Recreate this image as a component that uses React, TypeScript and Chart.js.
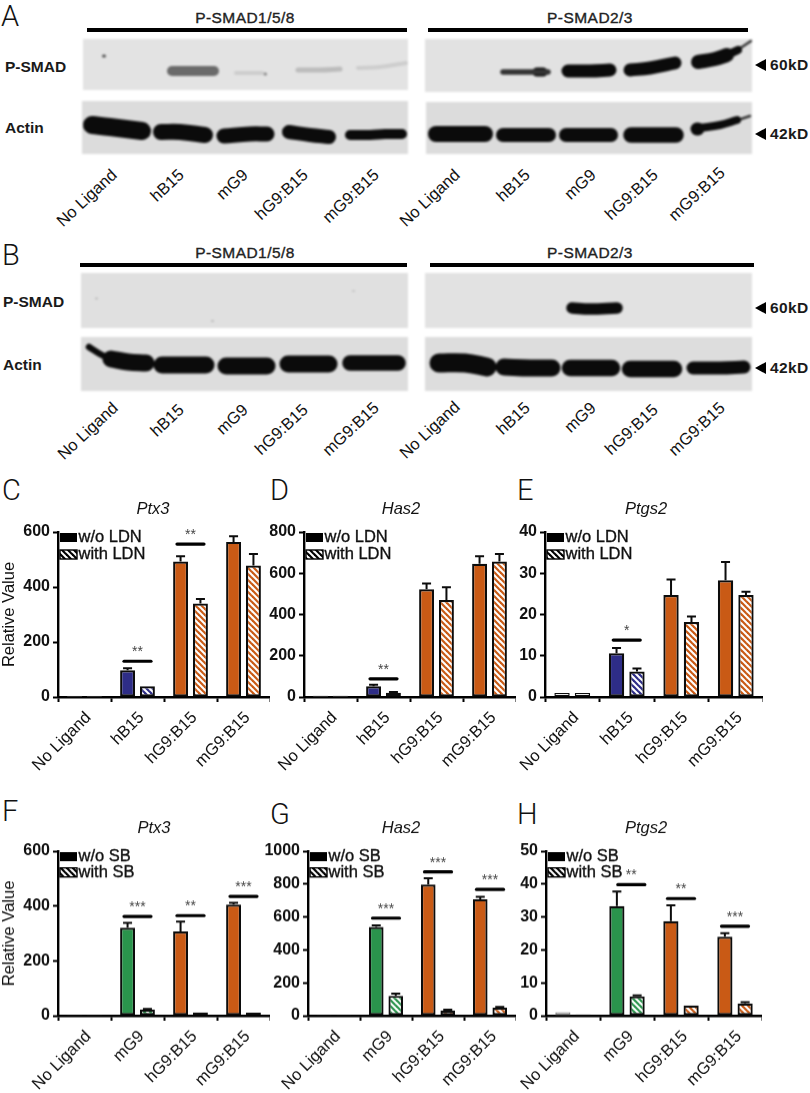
import React, { useEffect, useRef } from "react";
import { Chart, registerables } from "chart.js";

Chart.register(...registerables);
Chart.defaults.font.family = '"Liberation Sans", Arial, sans-serif';
Chart.defaults.color = "#111";

// ---------- bar chart data ----------
const catsLdn = ["No Ligand", "hB15", "hG9:B15", "mG9:B15"];
const catsSb = ["No Ligand", "mG9", "hG9:B15", "mG9:B15"];

const NAVY = "#2e2d87";
const ORANGE = "#c95a15";
const GREEN = "#2a944c";
const WHITE = "#ffffff";
const colorsLdn = [WHITE, NAVY, ORANGE, ORANGE];
const colorsSb = [WHITE, GREEN, ORANGE, ORANGE];

const ptx3LdnWithout = [5, 97, 493, 564];
const ptx3LdnWithoutTop = [5, 105, 512, 585];
const ptx3LdnWith = [5, 39, 340, 478];
const ptx3LdnWithTop = [5, 39, 356, 520];
const ptx3LdnSig: [number, number, string][] = [[1, 130, "**"], [2, 556, "**"]];

const has2LdnWithout = [7, 52, 522, 646];
const has2LdnWithoutTop = [7, 60, 550, 682];
const has2LdnWith = [7, 21, 470, 657];
const has2LdnWithTop = [7, 24, 532, 693];
const has2LdnSig: [number, number, string][] = [[1, 88, "**"]];

const ptgs2LdnWithout = [1, 10.6, 24.7, 28.3];
const ptgs2LdnWithoutTop = [1, 11.9, 28.5, 32.7];
const ptgs2LdnWith = [1, 6.2, 18.2, 24.7];
const ptgs2LdnWithTop = [1, 6.9, 19.5, 25.5];
const ptgs2LdnSig: [number, number, string][] = [[1, 13.8, "*"]];

const ptx3SbWithout = [3, 321, 307, 405];
const ptx3SbWithoutTop = [3, 338, 343, 412];
const ptx3SbWith = [3, 23, 12, 11];
const ptx3SbWithTop = [3, 25, 12, 11];
const ptx3SbSig: [number, number, string][] = [[1, 362, "***"], [2, 365, "**"], [3, 435, "***"]];

const has2SbWithout = [4, 540, 797, 708];
const has2SbWithoutTop = [4, 549, 836, 723];
const has2SbWith = [4, 121, 32, 49];
const has2SbWithTop = [4, 134, 36, 53];
const has2SbSig: [number, number, string][] = [[1, 593, "***"], [2, 874, "***"], [3, 767, "***"]];

const ptgs2SbWithout = [1.1, 33.3, 28.7, 24];
const ptgs2SbWithoutTop = [1.1, 37.7, 33.5, 25.1];
const ptgs2SbWith = [0.4, 5.9, 3.1, 3.7];
const ptgs2SbWithTop = [0.4, 6.2, 3.1, 4.1];
const ptgs2SbSig: [number, number, string][] = [[1.08, 39.8, "**"], [2, 35.6, "**"], [3, 27.2, "***"]];

// ---------- blot data (gel position of each band) ----------
type Band = { pts: [number, number][]; w: number; c: string };
const DARK = "#0b0b0b";
const blotATLBands: Band[] = [
  { pts: [[172, 71], [190, 71], [214, 71]], w: 10, c: "#6a6a6a" },
  { pts: [[172, 70], [187, 70]], w: 5, c: "#3f3f3f" },
  { pts: [[236, 73], [262, 73]], w: 4, c: "#cdcdcd" },
  { pts: [[298, 70], [320, 70], [340, 69]], w: 5, c: "#bcbcbc" },
  { pts: [[358, 68], [380, 67], [406, 63]], w: 4, c: "#cdcdcd" },
  { pts: [[103.5, 56], [104.5, 56]], w: 3, c: "#555" },
  { pts: [[265, 74], [265.5, 74]], w: 3, c: "#888" },
];
const blotABLBands: Band[] = [
  { pts: [[92, 125], [110, 127], [142, 131]], w: 18, c: DARK },
  { pts: [[161, 132], [180, 132], [205, 135]], w: 16, c: DARK },
  { pts: [[224, 136], [250, 134], [267, 134]], w: 15, c: DARK },
  { pts: [[289, 132], [310, 135], [329, 137]], w: 14, c: DARK },
  { pts: [[350, 135], [370, 135], [385, 134], [402, 134]], w: 10, c: DARK },
];
const blotATRBands: Band[] = [
  { pts: [[503, 72], [530, 72], [548, 72]], w: 5.5, c: "#333" },
  { pts: [[537, 72], [543, 72]], w: 9, c: DARK },
  { pts: [[568, 71], [590, 71], [610, 70]], w: 13, c: DARK },
  { pts: [[630, 70], [650, 68], [675, 63]], w: 13, c: DARK },
  { pts: [[698, 62], [715, 59], [727, 55]], w: 14, c: DARK },
  { pts: [[725, 56], [738, 50]], w: 8, c: DARK },
  { pts: [[736, 51], [751, 41]], w: 2.5, c: "#333" },
];
const blotABRBands: Band[] = [
  { pts: [[436, 134], [460, 134], [485, 134]], w: 16, c: DARK },
  { pts: [[503, 135], [525, 135], [549, 135]], w: 14, c: DARK },
  { pts: [[566, 135], [590, 135], [611, 135]], w: 14, c: DARK },
  { pts: [[631, 135], [650, 135], [676, 135]], w: 15.5, c: DARK },
  { pts: [[697, 129], [698, 129]], w: 13, c: DARK },
  { pts: [[700, 128], [720, 125], [737, 120]], w: 8, c: DARK },
  { pts: [[735, 121], [750, 116]], w: 2.5, c: "#333" },
];
const blotBTLBands: Band[] = [
  { pts: [[96, 298.5], [97, 298.5]], w: 2, c: "#bbb" },
  { pts: [[212, 321], [213, 321]], w: 2, c: "#bbb" },
  { pts: [[353, 291], [354, 291]], w: 2, c: "#c4c4c4" },
];
const blotBBLBands: Band[] = [
  { pts: [[89, 347], [100, 354], [112, 360]], w: 6.5, c: DARK },
  { pts: [[111, 359], [128, 362], [146, 363]], w: 17, c: DARK },
  { pts: [[162, 365], [185, 365], [206, 365]], w: 17, c: DARK },
  { pts: [[226, 366], [245, 366], [267, 366]], w: 17, c: DARK },
  { pts: [[288, 364], [310, 364], [329, 364]], w: 17, c: DARK },
  { pts: [[350, 363], [375, 363], [398, 363]], w: 15.5, c: DARK },
];
const blotBTRBands: Band[] = [
  { pts: [[572, 308], [590, 309], [617, 308]], w: 11.5, c: DARK },
];
const blotBBRBands: Band[] = [
  { pts: [[439, 363], [465, 363], [487, 367]], w: 19, c: DARK },
  { pts: [[504, 367], [530, 368], [552, 368]], w: 17, c: DARK },
  { pts: [[570, 368], [590, 368], [612, 368]], w: 16.5, c: DARK },
  { pts: [[630, 369], [650, 369], [674, 369]], w: 16.5, c: DARK },
  { pts: [[693, 368], [720, 368], [744, 367]], w: 13, c: DARK },
];

const laneLabels = ["No Ligand", "hB15", "mG9", "hG9:B15", "mG9:B15"];

// ---------- helpers ----------
const patternCache: Record<string, CanvasPattern> = {};
function hatch(color: string): CanvasPattern {
  if (patternCache[color]) return patternCache[color];
  const t = document.createElement("canvas");
  t.width = 6;
  t.height = 6;
  const c = t.getContext("2d")!;
  c.fillStyle = "#fff";
  c.fillRect(0, 0, 6, 6);
  c.strokeStyle = color;
  c.lineWidth = 2.2;
  for (const d of [-6, 0, 6]) {
    c.beginPath();
    c.moveTo(d - 1, -1);
    c.lineTo(d + 7, 7);
    c.stroke();
  }
  const p = c.createPattern(t, "repeat")!;
  patternCache[color] = p;
  return p;
}

type PanelDef = {
  title: string;
  cats: string[];
  colors: string[];
  without: number[];
  withTop: number[];
  withV: number[];
  withoutTop: number[];
  sig: [number, number, string][];
  names: [string, string];
  max: number;
  step: number;
  axisX: number;
  right: number;
  top: number;
  bottom: number;
  titleX: number;
  firstBorder: [string, string];
  yTitle?: boolean;
  legendStep: number;
};

function barConfig(p: PanelDef, canvasLeft: number, canvasTop: number, yW: number) {
  const borders = (first: string) => p.colors.map((_, i) => (i === 0 ? first : "#0c0c0c"));
  const widths = p.colors.map((_, i) => (i === 0 ? 1.4 : 2.2));
  const decor = {
    id: "decor",
    afterLayout(chart: any) {
      if (chart.titleBlock) {
        chart.titleBlock.left = p.titleX - canvasLeft - 50;
        chart.titleBlock.right = p.titleX - canvasLeft + 50;
      }
    },
    afterDatasetsDraw(chart: any) {
      const { ctx, scales } = chart;
      const y = scales.y;
      const x = scales.x;
      ctx.save();
      ctx.strokeStyle = "#0c0c0c";
      ctx.lineWidth = 2;
      [p.withoutTop, p.withTop].forEach((tops, ds) => {
        const vals = ds === 0 ? p.without : p.withV;
        chart.getDatasetMeta(ds).data.forEach((bar: any, i: number) => {
          if (tops[i] <= vals[i]) return;
          const yt = y.getPixelForValue(tops[i]);
          ctx.beginPath();
          ctx.moveTo(bar.x, y.getPixelForValue(vals[i]));
          ctx.lineTo(bar.x, yt);
          ctx.moveTo(bar.x - 4.5, yt);
          ctx.lineTo(bar.x + 4.5, yt);
          ctx.stroke();
        });
      });
      // significance bars
      p.sig.forEach(([pos, val, stars]) => {
        const cx = x.getPixelForValue(pos);
        const py = y.getPixelForValue(val);
        ctx.lineWidth = 3.2;
        ctx.lineCap = "round";
        ctx.strokeStyle = "#000";
        ctx.beginPath();
        ctx.moveTo(cx - 13.5, py);
        ctx.lineTo(cx + 13.5, py);
        ctx.stroke();
        ctx.fillStyle = "#444";
        ctx.font = '14px "Liberation Sans"';
        ctx.textAlign = "center";
        ctx.textBaseline = "middle";
        ctx.fillText(stars, cx, py - 9);
      });
      // legend
      const lx = p.axisX - canvasLeft + 2;
      const ly = p.top - canvasTop + 5.5;
      const ds = chart.data.datasets;
      ctx.lineCap = "butt";
      ctx.font = '16.5px "Liberation Sans"';
      ctx.textAlign = "left";
      ctx.textBaseline = "middle";
      ctx.fillStyle = "#000";
      ctx.fillRect(lx, ly - 4.5, 17, 9);
      ctx.fillStyle = "#111";
      ctx.strokeStyle = "#111";
      ctx.lineWidth = 0.35;
      ctx.fillText(ds[0].label, lx + 18.5, ly);
      ctx.strokeText(ds[0].label, lx + 18.5, ly);
      const l2 = ly + p.legendStep;
      ctx.fillStyle = hatch("#000");
      ctx.fillRect(lx, l2 - 4.5, 17, 9);
      ctx.strokeStyle = "#000";
      ctx.lineWidth = 1.4;
      ctx.strokeRect(lx, l2 - 4.5, 17, 9);
      ctx.fillStyle = "#111";
      ctx.strokeStyle = "#111";
      ctx.lineWidth = 0.35;
      ctx.fillText(ds[1].label, lx + 18.5, l2);
      ctx.strokeText(ds[1].label, lx + 18.5, l2);
      ctx.restore();
    },
  };
  return {
    type: "bar",
    data: {
      labels: p.cats,
      datasets: [
        {
          label: p.names[0],
          data: p.without,
          backgroundColor: p.colors,
          borderColor: borders(p.firstBorder[0]),
          borderWidth: widths,
          borderSkipped: false,
          categoryPercentage: 0.75,
          barPercentage: 0.75,
        },
        {
          label: p.names[1],
          data: p.withV,
          backgroundColor: p.colors.map((c) => (c === WHITE ? WHITE : hatch(c))),
          borderColor: borders(p.firstBorder[1]),
          borderWidth: widths,
          borderSkipped: false,
          categoryPercentage: 0.75,
          barPercentage: 0.75,
        },
      ],
    },
    options: {
      animation: false,
      responsive: false,
      devicePixelRatio: 1,
      layout: { padding: 0 },
      plugins: {
        legend: { display: false },
        tooltip: { enabled: false },
        title: {
          display: true,
          text: p.title,
          color: "#111",
          font: { size: 16.5, style: "italic", weight: "normal", lineHeight: 1.2 },
          padding: { top: 0, bottom: p.top - canvasTop - 19.8 },
        },
      },
      scales: {
        x: {
          type: "category",
          z: 1,
          afterFit(s: any) {
            s.height = 90;
          },
          grid: { drawOnChartArea: false, drawTicks: true, tickLength: 5, tickWidth: 2, tickColor: "#000" },
          border: { display: true, width: 2.4, color: "#000" },
          ticks: {
            autoSkip: false,
            minRotation: 45,
            maxRotation: 45,
            padding: 6,
            labelOffset: 4,
            color: "#111",
            font: { size: 16.5 },
          },
        },
        y: {
          min: 0,
          max: p.max,
          afterFit(s: any) {
            s.width = yW;
          },
          title: p.yTitle
            ? { display: true, text: "Relative Value", color: "#111", font: { size: 16.5 }, padding: 0 }
            : { display: false },
          grid: { drawOnChartArea: false, drawTicks: true, tickLength: 5, tickWidth: 2, tickColor: "#000" },
          border: { display: true, width: 2.4, color: "#000" },
          ticks: {
            stepSize: p.step,
            padding: 3,
            color: "#111",
            font: { size: 16, weight: "bold" },
            callback: (v: number) => String(v),
          },
        },
      },
    },
    plugins: [decor],
  } as any;
}

function blotConfig(bands: Band[], x0: number, x1: number, y0: number, y1: number) {
  return {
    type: "line",
    data: {
      datasets: bands.map((b) => ({
        data: b.pts.map(([x, y]) => ({ x, y })),
        borderColor: b.c,
        borderWidth: b.w,
        borderCapStyle: "round",
        borderJoinStyle: "round",
        tension: 0.4,
        pointRadius: 0,
        fill: false,
      })),
    },
    options: {
      animation: false,
      responsive: false,
      devicePixelRatio: 1,
      layout: { padding: 0 },
      plugins: { legend: { display: false }, tooltip: { enabled: false }, title: { display: false } },
      scales: {
        x: { type: "linear", min: x0, max: x1, display: false },
        y: { type: "linear", min: y0, max: y1, reverse: true, display: false },
      },
    },
  } as any;
}

function ChartBox({ config, left, top, width, height, style }: any) {
  const ref = useRef<HTMLCanvasElement>(null);
  useEffect(() => {
    const chart = new Chart(ref.current!, config);
    return () => chart.destroy();
  }, []);
  return (
    <canvas
      ref={ref}
      width={width}
      height={height}
      style={{ position: "absolute", left, top, width, height, ...style }}
    />
  );
}

function BarPanel({ p }: { p: PanelDef }) {
  const yW = p.yTitle ? p.axisX : 50;
  const canvasLeft = p.axisX - yW;
  const canvasTop = p.top - 32;
  const width = p.right + 2 - canvasLeft;
  const height = p.bottom + 90 - canvasTop;
  return (
    <ChartBox
      config={barConfig(p, canvasLeft, canvasTop, yW)}
      left={canvasLeft}
      top={canvasTop}
      width={width}
      height={height}
    />
  );
}

function Blot({ bands, x0, x1, y0, y1, bg }: any) {
  return (
    <ChartBox
      config={blotConfig(bands, x0, x1, y0, y1)}
      left={x0}
      top={y0}
      width={x1 - x0}
      height={y1 - y0}
      style={{ background: bg || "#e0e0e0", filter: "blur(1px)" }}
    />
  );
}

function Txt({ x, y, children, style }: any) {
  return (
    <div
      style={{
        position: "absolute",
        left: x,
        top: y,
        transform: "translateY(-50%)",
        whiteSpace: "nowrap",
        fontFamily: '"Liberation Sans", Arial, sans-serif',
        color: "#1a1a1a",
        lineHeight: 1,
        ...style,
      }}
    >
      {children}
    </div>
  );
}

function Letter({ x, y, children }: any) {
  return (
    <div
      style={{
        position: "absolute",
        left: x,
        top: y,
        lineHeight: 1,
        fontFamily: 'Roboto, "Liberation Sans", sans-serif',
        fontWeight: 300,
        fontSize: 29,
        color: "#111",
      }}
    >
      {children}
    </div>
  );
}

function Header({ x0, x1, y, cx, ty, text }: any) {
  return (
    <>
      <div style={{ position: "absolute", left: x0, top: y, width: x1 - x0, height: 4.4, background: "#000" }} />
      <div
        style={{
          position: "absolute",
          left: cx - 80,
          width: 160,
          top: ty,
          transform: "translateY(-50%)",
          textAlign: "center",
          fontFamily: '"Liberation Sans", Arial, sans-serif',
          fontSize: 15.5,
          letterSpacing: 0.45,
          lineHeight: 1,
          color: "#222",
          WebkitTextStroke: "0.35px #222",
        }}
      >
        {text}
      </div>
    </>
  );
}

function Rot({ x, y, text }: any) {
  return (
    <div
      style={{
        position: "absolute",
        left: x,
        top: y,
        whiteSpace: "nowrap",
        fontFamily: '"Liberation Sans", Arial, sans-serif',
        fontSize: 16.5,
        lineHeight: 1,
        color: "#111",
        transformOrigin: "100% 50%",
        transform: "translate(-100%,-50%) rotate(-43deg)",
      }}
    >
      {text}
    </div>
  );
}

function Kd({ y, text }: any) {
  return (
    <>
      <div
        style={{
          position: "absolute",
          left: 755,
          top: y - 6,
          width: 0,
          height: 0,
          borderTop: "6px solid transparent",
          borderBottom: "6px solid transparent",
          borderRight: "11px solid #000",
        }}
      />
      <Txt x={770} y={y} style={{ fontSize: 15.5, fontWeight: "bold", letterSpacing: 0.4 }}>
        {text}
      </Txt>
    </>
  );
}

const legendLdn: [string, string] = ["w/o LDN", "with LDN"];
const legendSb: [string, string] = ["w/o SB", "with SB"];

const panels: PanelDef[] = [
  { title: "Ptx3", cats: catsLdn, colors: colorsLdn, without: ptx3LdnWithout, withoutTop: ptx3LdnWithoutTop, withV: ptx3LdnWith, withTop: ptx3LdnWithTop, sig: ptx3LdnSig, names: legendLdn, max: 600, step: 200, axisX: 58, right: 268, top: 532, bottom: 697, titleX: 153, firstBorder: ["#aaa", "#aaa"], yTitle: true, legendStep: 17 },
  { title: "Has2", cats: catsLdn, colors: colorsLdn, without: has2LdnWithout, withoutTop: has2LdnWithoutTop, withV: has2LdnWith, withTop: has2LdnWithTop, sig: has2LdnSig, names: legendLdn, max: 800, step: 200, axisX: 304, right: 514, top: 532, bottom: 697, titleX: 401, firstBorder: ["#aaa", "#aaa"], legendStep: 17 },
  { title: "Ptgs2", cats: catsLdn, colors: colorsLdn, without: ptgs2LdnWithout, withoutTop: ptgs2LdnWithoutTop, withV: ptgs2LdnWith, withTop: ptgs2LdnWithTop, sig: ptgs2LdnSig, names: legendLdn, max: 40, step: 10, axisX: 545, right: 761, top: 532, bottom: 697, titleX: 646, firstBorder: ["#0c0c0c", "#0c0c0c"], legendStep: 17 },
  { title: "Ptx3", cats: catsSb, colors: colorsSb, without: ptx3SbWithout, withoutTop: ptx3SbWithoutTop, withV: ptx3SbWith, withTop: ptx3SbWithTop, sig: ptx3SbSig, names: legendSb, max: 600, step: 200, axisX: 58, right: 268, top: 851, bottom: 1015.7, titleX: 154, firstBorder: ["#666", "#666"], yTitle: true, legendStep: 15.7 },
  { title: "Has2", cats: catsSb, colors: colorsSb, without: has2SbWithout, withoutTop: has2SbWithoutTop, withV: has2SbWith, withTop: has2SbWithTop, sig: has2SbSig, names: legendSb, max: 1000, step: 200, axisX: 308, right: 514, top: 851, bottom: 1015.7, titleX: 401, firstBorder: ["#666", "#666"], legendStep: 15.7 },
  { title: "Ptgs2", cats: catsSb, colors: colorsSb, without: ptgs2SbWithout, withoutTop: ptgs2SbWithoutTop, withV: ptgs2SbWith, withTop: ptgs2SbWithTop, sig: ptgs2SbSig, names: legendSb, max: 50, step: 10, axisX: 546, right: 760, top: 851, bottom: 1015.7, titleX: 646, firstBorder: ["#888", "#222"], legendStep: 15.7 },
];

const rowAEnds: [number, number][] = [[114, 172], [181, 172], [245, 172], [305, 172], [376, 172]];
const rowARightEnds: [number, number][] = [[457, 172], [527, 172], [593, 172], [655, 172], [722, 170]];
const rowBEnds: [number, number][] = [[115, 405], [181, 407], [245, 407], [305, 407], [376, 405]];
const rowBRightEnds: [number, number][] = [[457, 404], [527, 405], [593, 405], [655, 407], [722, 405]];

export default function App() {
  return (
    <div style={{ position: "absolute", left: 0, top: 0, width: 810, height: 1093, background: "#fff", overflow: "hidden" }}>
      <Letter x={1} y={2}>A</Letter>
      <Letter x={2} y={241}>B</Letter>
      <Letter x={2} y={476}>C</Letter>
      <Letter x={270} y={476}>D</Letter>
      <Letter x={517} y={476}>E</Letter>
      <Letter x={2} y={797}>F</Letter>
      <Letter x={270} y={800}>G</Letter>
      <Letter x={517} y={800}>H</Letter>

      <Header x0={87} x1={407} y={27.7} cx={245} ty={18} text="P-SMAD1/5/8" />
      <Header x0={428} x1={748} y={27.7} cx={590} ty={18} text="P-SMAD2/3" />
      <Header x0={80} x1={407} y={263} cx={245} ty={253} text="P-SMAD1/5/8" />
      <Header x0={430} x1={754} y={263} cx={590} ty={253} text="P-SMAD2/3" />

      <Txt x={5} y={67} style={{ fontSize: 15.5, fontWeight: "bold" }}>P-SMAD</Txt>
      <Txt x={5} y={128} style={{ fontSize: 15.5, fontWeight: "bold" }}>Actin</Txt>
      <Txt x={3} y={302} style={{ fontSize: 15.5, fontWeight: "bold" }}>P-SMAD</Txt>
      <Txt x={3} y={365} style={{ fontSize: 15.5, fontWeight: "bold" }}>Actin</Txt>

      <Blot bands={blotATLBands} x0={83} x1={408} y0={39} y1={90} bg="#e3e3e3" />
      <Blot bands={blotABLBands} x0={82} x1={408} y0={101} y1={154} bg="#dcdcdc" />
      <Blot bands={blotATRBands} x0={425} x1={752} y0={39} y1={92} bg="#e2e2e2" />
      <Blot bands={blotABRBands} x0={426} x1={752} y0={102} y1={154} bg="#dcdcdc" />
      <Blot bands={blotBTLBands} x0={81} x1={408} y0={273} y1={328} bg="#e0e0e0" />
      <Blot bands={blotBBLBands} x0={81} x1={408} y0={337} y1={391} bg="#dddddd" />
      <Blot bands={blotBTRBands} x0={425} x1={752} y0={273} y1={328} bg="#e2e2e2" />
      <Blot bands={blotBBRBands} x0={425} x1={752} y0={337} y1={391} bg="#dddddd" />

      <Kd y={65} text="60kD" />
      <Kd y={134} text="42kD" />
      <Kd y={308} text="60kD" />
      <Kd y={368} text="42kD" />

      {laneLabels.map((t, i) => <Rot key={"a" + i} x={rowAEnds[i][0]} y={rowAEnds[i][1]} text={t} />)}
      {laneLabels.map((t, i) => <Rot key={"b" + i} x={rowARightEnds[i][0]} y={rowARightEnds[i][1]} text={t} />)}
      {laneLabels.map((t, i) => <Rot key={"c" + i} x={rowBEnds[i][0]} y={rowBEnds[i][1]} text={t} />)}
      {laneLabels.map((t, i) => <Rot key={"d" + i} x={rowBRightEnds[i][0]} y={rowBRightEnds[i][1]} text={t} />)}

      {panels.map((p, i) => <BarPanel key={i} p={p} />)}
    </div>
  );
}
